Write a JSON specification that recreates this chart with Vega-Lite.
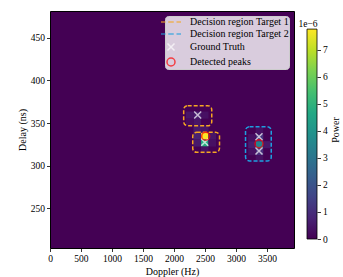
{
  "$schema": "https://vega.github.io/schema/vega-lite/v6.json",
  "padding": {"left": 16, "top": 10, "right": 5, "bottom": 5},
  "background": "white",
  "config": {
    "font": "Liberation Serif",
    "axis": {"labelFont": "Liberation Serif", "titleFont": "Liberation Serif", "labelFontSize": 9.5, "titleFontSize": 10, "titleFontWeight": "normal", "labelColor": "black", "titleColor": "black", "tickColor": "black", "domainColor": "black", "tickSize": 3.5, "tickWidth": 0.8, "grid": false, "labelPadding": 2},
    "legend": {"orient": "top-right", "offset": 5, "fillColor": "rgba(255,255,255,0.8)", "strokeColor": "#cccccc", "cornerRadius": 3, "padding": {"left": 9, "right": 5, "top": 4, "bottom": 4}, "labelFont": "Liberation Serif", "labelFontSize": 10, "labelColor": "black", "symbolSize": 100, "symbolStrokeWidth": 1.5, "symbolFillColor": "transparent", "rowPadding": 1, "labelOffset": 13}
  },
  "datasets": {
    "cells": [
      {"doppler": 2497, "delay": 334.7, "power": 7.77e-6},
      {"doppler": 2497, "delay": 326.5, "power": 4.8e-6},
      {"doppler": 2376, "delay": 334.7, "power": 0.7e-6},
      {"doppler": 2376, "delay": 326.5, "power": 0.5e-6},
      {"doppler": 2618, "delay": 334.7, "power": 0.4e-6},
      {"doppler": 2618, "delay": 326.5, "power": 0.3e-6},
      {"doppler": 2497, "delay": 342.9, "power": 0.4e-6},
      {"doppler": 2497, "delay": 318.3, "power": 0.3e-6},
      {"doppler": 2376, "delay": 342.9, "power": 0.5e-6},
      {"doppler": 2376, "delay": 351.1, "power": 0.4e-6},
      {"doppler": 2376, "delay": 359.3, "power": 0.6e-6},
      {"doppler": 2255, "delay": 359.3, "power": 0.4e-6},
      {"doppler": 2497, "delay": 359.3, "power": 0.3e-6},
      {"doppler": 2255, "delay": 351.1, "power": 0.2e-6},
      {"doppler": 3380, "delay": 324.6, "power": 3.4e-6},
      {"doppler": 3380, "delay": 332.8, "power": 1.1e-6},
      {"doppler": 3380, "delay": 316.4, "power": 1.0e-6},
      {"doppler": 3259, "delay": 324.6, "power": 0.6e-6},
      {"doppler": 3501, "delay": 324.6, "power": 0.5e-6},
      {"doppler": 3259, "delay": 332.8, "power": 0.3e-6},
      {"doppler": 3259, "delay": 316.4, "power": 0.3e-6},
      {"doppler": 3380, "delay": 341.0, "power": 0.3e-6},
      {"doppler": 3380, "delay": 308.2, "power": 0.3e-6}
    ],
    "boxes": [
      {"label": "Decision region Target 1", "doppler": 2157, "doppler2": 2610, "delay": 346.8, "delay2": 370.3},
      {"label": "Decision region Target 1", "doppler": 2303, "doppler2": 2735, "delay": 315.6, "delay2": 339.1},
      {"label": "Decision region Target 2", "doppler": 3155, "doppler2": 3570, "delay": 305.5, "delay2": 345.7}
    ],
    "truth": [
      {"label": "Ground Truth", "doppler": 2383, "delay": 359.4},
      {"label": "Ground Truth", "doppler": 2497, "delay": 327.4},
      {"label": "Ground Truth", "doppler": 3372, "delay": 334.0},
      {"label": "Ground Truth", "doppler": 3372, "delay": 317.2}
    ],
    "peaks": [
      {"label": "Detected peaks", "doppler": 2512, "delay": 334.5},
      {"label": "Detected peaks", "doppler": 3372, "delay": 325.7}
    ],
    "colorbar": [{"lo": 0, "hi": 7.77e-6, "text": "1e−6", "top": 7.96e-6}]
  },
  "spacing": 13,
  "bounds": "flush",
  "resolve": {
    "scale": {"color": "independent", "stroke": "independent", "shape": "independent", "y": "independent", "x": "independent"},
    "legend": {"color": "independent", "stroke": "independent", "shape": "independent"}
  },
  "hconcat": [
    {
      "width": 244,
      "height": 237,
      "view": {"fill": "#440154", "stroke": "black", "strokeWidth": 1},
      "encoding": {
        "x": {"field": "doppler", "type": "quantitative", "title": "Doppler (Hz)", "scale": {"domain": [0, 3937], "nice": false, "zero": false}, "axis": {"values": [0, 500, 1000, 1500, 2000, 2500, 3000, 3500], "tickCount": 8, "format": "d", "domain": false, "titlePadding": 3, "labelOverlap": false, "labelFlush": false}},
        "y": {"field": "delay", "type": "quantitative", "title": "Delay (ns)", "scale": {"domain": [203.5, 481.3], "nice": false, "zero": false}, "axis": {"values": [250, 300, 350, 400, 450], "domain": false, "titlePadding": 3, "labelOverlap": false}}
      },
      "layer": [
        {
          "data": {"name": "cells"},
          "mark": {"type": "rect", "width": 7.6, "height": 7.1},
          "encoding": {
            "color": {"field": "power", "type": "quantitative", "scale": {"scheme": "viridis", "domain": [0, 7.77e-6]}, "legend": null}
          }
        },
        {
          "data": {"name": "boxes"},
          "mark": {"type": "rect", "filled": false, "strokeDash": [4, 2], "strokeWidth": 1.5, "cornerRadius": 4},
          "encoding": {
            "x2": {"field": "doppler2"},
            "y2": {"field": "delay2"},
            "stroke": {"field": "label", "type": "nominal", "title": null, "scale": {"domain": ["Decision region Target 1", "Decision region Target 2", "Ground Truth", "Detected peaks"], "range": ["#f5a623", "#1ea0e0", "white", "red"]}}
          }
        },
        {
          "data": {"name": "truth"},
          "mark": {"type": "point", "filled": false, "size": 100, "strokeWidth": 1.5},
          "encoding": {
            "stroke": {"field": "label", "type": "nominal", "title": null, "scale": {"domain": ["Decision region Target 1", "Decision region Target 2", "Ground Truth", "Detected peaks"], "range": ["#f5a623", "#1ea0e0", "white", "red"]}},
            "shape": {"field": "label", "type": "nominal", "title": null, "scale": {"domain": ["Decision region Target 1", "Decision region Target 2", "Ground Truth", "Detected peaks"], "range": ["M-2,0H-1.1M-0.55,0H0.55M1.1,0H2", "M-2,0H-1.1M-0.55,0H0.55M1.1,0H2", "M-0.7,-0.7L0.7,0.7M-0.7,0.7L0.7,-0.7", "M0.8,0A0.8,0.8 0 1,1 -0.8,0A0.8,0.8 0 1,1 0.8,0Z"]}}
          }
        },
        {
          "data": {"name": "peaks"},
          "mark": {"type": "point", "filled": false, "size": 100, "strokeWidth": 1.5},
          "encoding": {
            "stroke": {"field": "label", "type": "nominal", "title": null, "scale": {"domain": ["Decision region Target 1", "Decision region Target 2", "Ground Truth", "Detected peaks"], "range": ["#f5a623", "#1ea0e0", "white", "red"]}},
            "shape": {"field": "label", "type": "nominal", "title": null, "scale": {"domain": ["Decision region Target 1", "Decision region Target 2", "Ground Truth", "Detected peaks"], "range": ["M-2,0H-1.1M-0.55,0H0.55M1.1,0H2", "M-2,0H-1.1M-0.55,0H0.55M1.1,0H2", "M-0.7,-0.7L0.7,0.7M-0.7,0.7L0.7,-0.7", "M0.8,0A0.8,0.8 0 1,1 -0.8,0A0.8,0.8 0 1,1 0.8,0Z"]}}
          }
        }
      ]
    },
    {
      "width": 10,
      "height": 237,
      "view": {"stroke": null},
      "data": {"name": "colorbar"},
      "layer": [
        {
          "mark": {"type": "rect", "stroke": "black", "strokeWidth": 0.8, "fill": {"gradient": "linear", "x1": 0, "y1": 1, "x2": 0, "y2": 0, "stops": [{"offset": 0, "color": "#440154"}, {"offset": 0.1, "color": "#482475"}, {"offset": 0.2, "color": "#414487"}, {"offset": 0.3, "color": "#355f8d"}, {"offset": 0.4, "color": "#2a788e"}, {"offset": 0.5, "color": "#21918c"}, {"offset": 0.6, "color": "#22a884"}, {"offset": 0.7, "color": "#44bf70"}, {"offset": 0.8, "color": "#7ad151"}, {"offset": 0.9, "color": "#bddf26"}, {"offset": 1, "color": "#fde725"}]}},
          "encoding": {
            "y": {"field": "lo", "type": "quantitative", "title": "Power", "scale": {"domain": [-0.333e-6, 8.44e-6], "nice": false, "zero": false}, "axis": {"orient": "right", "values": [0, 1e-6, 2e-6, 3e-6, 4e-6, 5e-6, 6e-6, 7e-6], "tickCount": 9, "labelExpr": "'' + round(datum.value * 1e6)", "domain": false, "titleAngle": 270, "titlePadding": 13, "labelOverlap": false}},
            "y2": {"field": "hi"}
          }
        },
        {
          "mark": {"type": "text", "fontSize": 9.5, "font": "Liberation Serif", "dx": -4, "color": "black"},
          "encoding": {
            "text": {"field": "text", "type": "nominal"},
            "y": {"field": "top", "type": "quantitative", "title": "Power", "axis": {"orient": "right", "values": [0, 1e-6, 2e-6, 3e-6, 4e-6, 5e-6, 6e-6, 7e-6], "tickCount": 9, "labelExpr": "'' + round(datum.value * 1e6)", "domain": false, "titleAngle": 270, "titlePadding": 13, "labelOverlap": false}}
          }
        }
      ]
    }
  ]
}
